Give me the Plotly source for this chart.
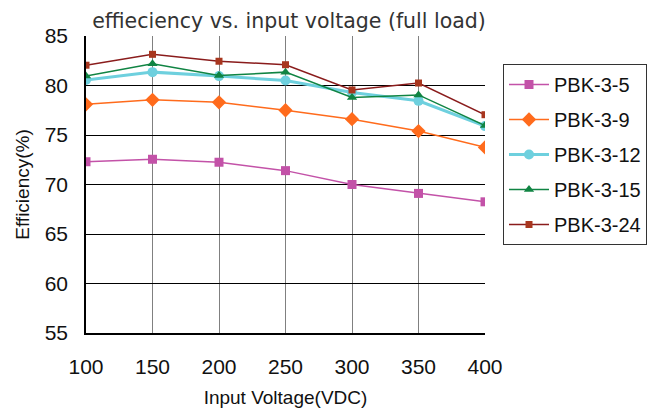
import plotly.graph_objects as go

voltage = [100, 150, 200, 250, 300, 350, 400]
pbk_3_5 = [72.3, 72.55, 72.25, 71.4, 70.0, 69.1, 68.25]
pbk_3_9 = [78.1, 78.55, 78.3, 77.5, 76.6, 75.4, 73.75]
pbk_3_12 = [80.55, 81.35, 80.95, 80.5, 79.3, 78.45, 75.9]
pbk_3_15 = [80.95, 82.2, 81.0, 81.35, 78.8, 79.05, 75.95]
pbk_3_24 = [82.05, 83.15, 82.45, 82.1, 79.55, 80.25, 77.05]

series = [
    ("PBK-3-5", pbk_3_5, "#C352A8", "#C352A8", "square", 9, 1.5),
    ("PBK-3-9", pbk_3_9, "#FF6B1C", "#FF6B1C", "diamond", 11, 1.5),
    ("PBK-3-12", pbk_3_12, "#6ED0DE", "#6ED0DE", "circle", 10, 3),
    ("PBK-3-15", pbk_3_15, "#108443", "#108443", "triangle-up", 9, 1.5),
    ("PBK-3-24", pbk_3_24, "#8A1C1C", "#A8361E", "square", 7, 1.5),
]

fig = go.Figure()
for name, vals, lc, mc, sym, ms, lw in series:
    fig.add_trace(go.Scatter(
        x=voltage, y=vals, name=name, mode="lines+markers",
        line=dict(color=lc, width=lw),
        marker=dict(color=mc, symbol=sym, size=ms),
        legendgroup=name,
    ))

# the page body has an 8px margin, so the figure is sized/offset to compensate
W, H = 654, 400
fig.update_layout(
    width=W, height=H,
    margin=dict(l=78, r=177, t=28, b=75),
    paper_bgcolor="white", plot_bgcolor="white",
    title=dict(text="effieciency vs. input voltage (full load)",
               x=281 / W, xanchor="center", y=1 - 13 / H, yanchor="middle",
               font=dict(family="DejaVu Sans", size=20.5, color="#333")),
    xaxis=dict(range=[100, 400], tickvals=voltage, showgrid=True,
               gridcolor="#808080", gridwidth=1, showline=True, linecolor="black",
               linewidth=1.5, zeroline=False, automargin=False,
               ticklabelstandoff=14,
               tickfont=dict(family="Liberation Sans", size=21, color="#111"),
               title=dict(text="Input Voltage(VDC)", standoff=17,
                          font=dict(family="Liberation Sans", size=19, color="#111"))),
    yaxis=dict(range=[55, 85], dtick=5, showgrid=True, gridcolor="black",
               gridwidth=1, showline=True, linecolor="black", linewidth=1.5,
               zeroline=False, ticklabelstandoff=12, automargin=False,
               tickfont=dict(family="Liberation Sans", size=21, color="#111"),
               title=dict(text="Efficiency(%)", standoff=10,
                          font=dict(family="Liberation Sans", size=19, color="#111"))),
    legend=dict(x=(503 - 86) / 399, y=(333 - 64) / 297, xanchor="left", yanchor="top",
                bordercolor="#333", borderwidth=1, bgcolor="white",
                tracegroupgap=6, itemwidth=40,
                font=dict(family="Liberation Sans", size=20, color="#111")),
    showlegend=True,
)

fig.write_html("out.html")
